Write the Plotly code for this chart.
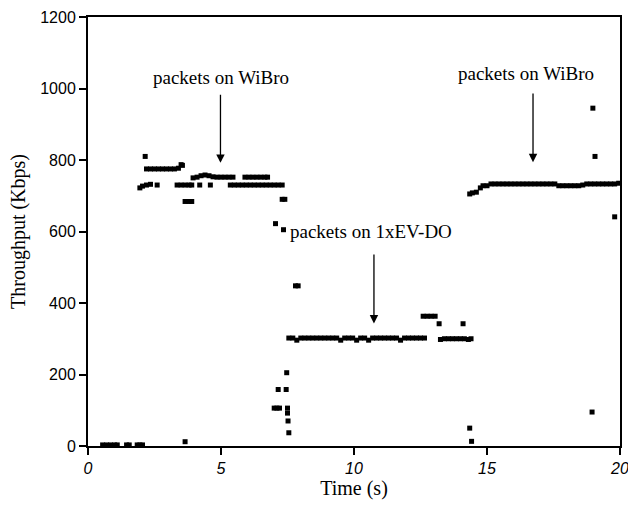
""" Throughput during WiBro / 1xEV-DO handover """

import plotly.graph_objects as go

# --- data (time in s, throughput in Kbps) ---
t_idle = [0.55, 0.7, 0.85, 1.0, 1.1, 1.45, 1.55, 1.85, 1.95, 2.05, 3.65]
y_idle = [3, 3, 3, 3, 3, 3, 3, 3, 3, 3, 12]

t_wibro1 = [1.95, 2.05, 2.15, 2.2, 2.35, 2.5, 2.65, 2.8, 2.95, 3.1, 3.25, 3.4, 3.5, 3.55,
            2.2, 2.35, 2.6, 3.35, 3.5, 3.65, 3.8, 3.9, 4.2, 4.6,
            3.65, 3.8, 3.9,
            3.95, 4.1, 4.25, 4.4, 4.55, 4.7, 4.85, 5.0, 5.15, 5.3, 5.45,
            5.9, 6.05, 6.2, 6.35, 6.5, 6.65, 6.75,
            5.35, 5.5, 5.65, 5.8, 5.95, 6.1, 6.25, 6.4, 6.55, 6.7, 6.85, 7.0, 7.15, 7.3,
            7.3, 7.4, 7.05, 7.35]
y_wibro1 = [722, 727, 810, 775, 775, 775, 775, 775, 775, 775, 775, 777, 787, 785,
            730, 732, 730, 730, 730, 730, 730, 730, 730, 730,
            684, 684, 684,
            750, 752, 756, 758, 756, 753, 752, 752, 752, 752, 752,
            752, 752, 752, 752, 752, 752, 752,
            730, 730, 730, 730, 730, 730, 730, 730, 730, 730, 730, 730, 730, 730,
            690, 690, 622, 605]

t_switch = [7.0, 7.1, 7.2, 7.15, 7.45, 7.47, 7.5, 7.5, 7.52, 7.55, 7.8, 7.9]
y_switch = [106, 106, 106, 158, 158, 205, 106, 92, 70, 37, 448, 448]

t_evdo = [7.55, 7.7, 7.85, 8.0, 8.15, 8.3, 8.45, 8.6, 8.75, 8.9, 9.05, 9.2, 9.35, 9.5,
          9.65, 9.8, 9.95, 10.1, 10.25, 10.4, 10.55, 10.7, 10.85, 11.0, 11.15, 11.3,
          11.45, 11.6, 11.75, 11.9, 12.05, 12.2, 12.35, 12.5, 12.65,
          12.6, 12.75, 12.9, 13.05, 13.2, 14.1,
          13.25, 13.4, 13.55, 13.7, 13.85, 14.0, 14.15, 14.3, 14.4,
          14.35, 14.42]
y_evdo = [302, 302, 296, 302, 302, 302, 302, 302, 302, 302, 302, 302, 302, 296,
          302, 302, 302, 296, 302, 302, 296, 302, 302, 302, 302, 302,
          302, 302, 296, 302, 302, 302, 302, 302, 302,
          363, 363, 363, 363, 342, 342,
          298, 300, 300, 300, 300, 300, 300, 298, 300,
          50, 13]

t_wibro2 = [14.35, 14.45, 14.6, 14.75, 14.85, 15.0, 15.15, 15.3, 15.45,
            15.6, 15.75, 15.9, 16.05, 16.2, 16.35, 16.5, 16.65, 16.8, 16.95,
            17.1, 17.25, 17.4, 17.55, 17.7, 17.85, 18.0, 18.15, 18.3, 18.45,
            18.6, 18.75, 18.9, 19.05, 19.2, 19.35, 19.5, 19.65, 19.8, 19.95,
            18.98, 19.06, 18.95, 19.8]
y_wibro2 = [705, 708, 710, 722, 728, 728, 733, 733, 733,
            733, 733, 733, 733, 733, 733, 733, 733, 733, 733,
            733, 733, 733, 733, 728, 728, 728, 728, 728, 728,
            730, 733, 733, 733, 733, 733, 733, 733, 733, 735,
            945, 810, 95, 641]

SERIF = "Liberation Serif"
SANS = "Liberation Sans"

t_all = t_idle + t_wibro1 + t_switch + t_evdo + t_wibro2
y_all = y_idle + y_wibro1 + y_switch + y_evdo + y_wibro2

fig = go.Figure(
    go.Scatter(
        x=t_all,
        y=y_all,
        mode="markers",
        marker=dict(symbol="square", size=5, color="black"),
        showlegend=False,
        cliponaxis=False,
    )
)

# labels and arrows: (text x, text y, arrow x, arrow top, arrow tip)
notes = [
    ("packets on WiBro", 5.0, 1032, 4.98, 987, 792),
    ("packets on 1xEV-DO", 10.64, 599, 10.75, 540, 343),
    ("packets on WiBro", 16.47, 1043, 16.73, 990, 794),
]
for text, tx, ty, ax, top, tip in notes:
    fig.add_annotation(
        x=tx, y=ty, text=text, showarrow=False,
        font=dict(family=SERIF, size=19, color="black"),
    )
    fig.add_annotation(
        x=ax, y=tip, ax=ax, ay=top, axref="x", ayref="y", text="",
        showarrow=True, arrowhead=2, arrowsize=1.3, arrowwidth=1.3, arrowcolor="black",
    )

axis_common = dict(
    showline=True, linecolor="black", linewidth=2, mirror=True,
    showgrid=False, zeroline=False, automargin=False,
    ticks="outside", ticklen=7, tickwidth=1.5, tickcolor="black",
    ticklabeloverflow="allow",
)
fig.update_xaxes(
    range=[0, 20], tickvals=[0, 5, 10, 15, 20],
    tickfont=dict(family=SANS, size=16, color="black", style="italic"),
    title=dict(text="Time (s)", font=dict(family=SERIF, size=20, color="black"), standoff=4),
    **axis_common,
)
fig.update_yaxes(
    range=[0, 1200], dtick=200,
    tickfont=dict(family=SANS, size=16, color="black"),
    title=dict(text="Throughput (Kbps)", font=dict(family=SERIF, size=20, color="black"), standoff=9),
    **axis_common,
)
fig.update_layout(
    width=628, height=509,
    margin=dict(l=88, r=8, t=17, b=63),
    plot_bgcolor="white", paper_bgcolor="white",
)

# the page's default body margin would shift the figure; drop it
fig.write_html(
    "out.html",
    config={"displayModeBar": False},
    post_script="document.body.style.margin = '0';",
)
